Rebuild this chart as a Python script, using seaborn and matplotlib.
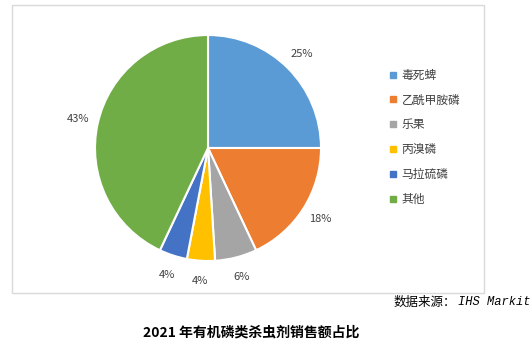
import matplotlib
matplotlib.use("Agg")
import matplotlib.pyplot as plt
import seaborn as sns
from matplotlib.lines import Line2D
from matplotlib.patches import Rectangle

categories = ["毒死蜱", "乙酰甲胺磷", "乐果", "丙溴磷", "马拉硫磷", "其他"]
values = [25, 18, 6, 4, 4, 43]
colors = ["#5B9BD5", "#ED7D31", "#A5A5A5", "#FFC000", "#4472C4", "#70AD47"]
title = "2021 年有机磷类杀虫剂销售额占比"
source = "数据来源："
source_en = "IHS Markit"

sns.set_theme(style="white")
plt.rcParams["font.family"] = ["Noto Sans CJK SC", "DejaVu Sans"]
sns.set_palette(colors)

W, H = 532, 355
fig = plt.figure(figsize=(W / 100, H / 100), dpi=100)

# chart border
fig.patches.append(Rectangle((12 / W, 1 - 293 / H), 472 / W, 288 / H,
                             transform=fig.transFigure, fill=False,
                             edgecolor="#D9D9D9", linewidth=1.0))

cx, cy, r = 208, 148, 113
ax = fig.add_axes([(cx - r) / W, 1 - (cy + r) / H, 2 * r / W, 2 * r / H])
wedges, texts, autotexts = ax.pie(
    values, colors=sns.color_palette(), startangle=90, counterclock=False,
    autopct=lambda p: f"{p:.0f}%", pctdistance=1.18,
    wedgeprops=dict(edgecolor="white", linewidth=1.5),
    textprops=dict(fontsize=8, color="#404040"))
ax.set_xlim(-1, 1)
ax.set_ylim(-1, 1)
ax.set_aspect("equal")
ax.axis("off")
for w in wedges:
    w.set_clip_on(False)

handles = [Line2D([0], [0], marker="s", linestyle="", markersize=5,
                  markerfacecolor=c, markeredgecolor=c) for c in colors]
fig.legend(handles, categories, loc="upper left",
           bbox_to_anchor=(385 / W, 1 - 64 / H), frameon=False,
           fontsize=8.5, handlelength=0.6, handletextpad=0.4,
           labelspacing=1.0, labelcolor="#404040", borderaxespad=0)

fig.text(456 / W, 1 - 302 / H, source, fontsize=9, ha="right", va="center",
         color="black")
fig.text(458 / W, 1 - 302 / H, source_en, fontsize=8.7, ha="left", va="center",
         family="Liberation Mono", style="italic", color="black")

fig.text(251 / W, 1 - 333 / H, title, fontsize=10, fontweight="bold",
         ha="center", va="center", color="black")

fig.savefig("out.png", dpi=100)
